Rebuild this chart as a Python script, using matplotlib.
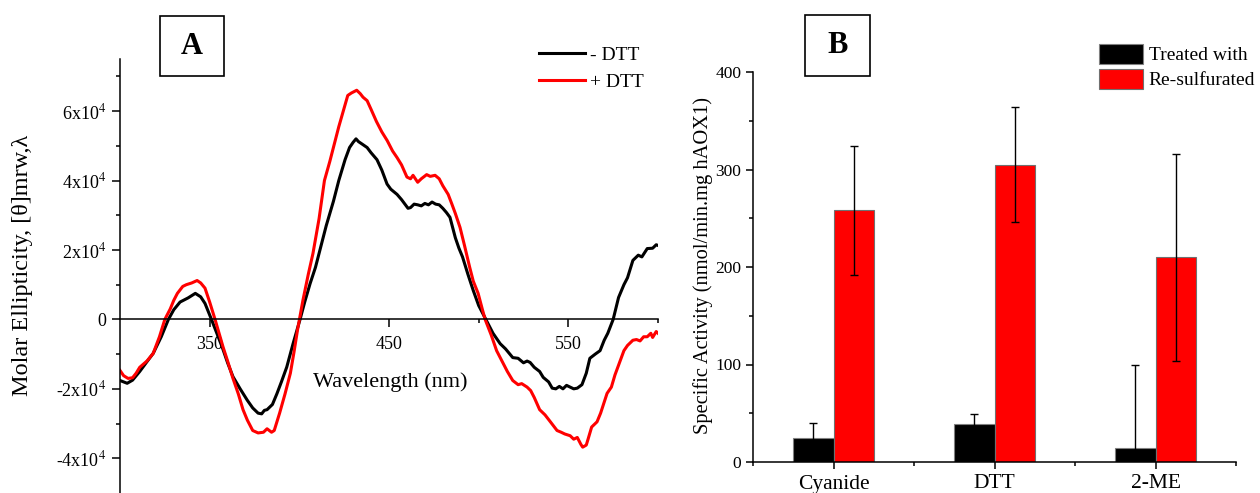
import matplotlib
matplotlib.use("Agg")
import matplotlib.pyplot as plt
from matplotlib.patches import Rectangle
import numpy as np

plt.rcParams['font.family'] = 'serif'
plt.rcParams['font.serif'] = ['Liberation Serif', 'DejaVu Serif']
plt.rcParams['mathtext.fontset'] = 'stix'

# ---- panel A: CD spectra (values in units of 1e4) ----
wl_minus = [300, 304, 307, 311, 315, 318.5, 323, 327, 330, 333.5, 338, 342, 345, 347.4, 351,
            354, 357, 360, 363, 367, 371, 374, 377, 379, 380.5, 382, 385, 387.5, 390, 393,
            396.5, 400.4, 403, 406, 409, 411.5, 415, 419, 422, 425.5, 428, 430, 431.6, 433,
            435, 437.8, 440, 443.3, 446, 448.9, 451, 454.5, 457, 460.6, 462, 464, 466, 468,
            470, 472, 474, 476, 478, 480, 482, 484, 487, 489, 491, 494, 497, 500, 504, 508,
            512, 515, 519, 522, 525, 527, 528.7, 531, 534, 536, 539, 541, 543, 545, 547, 549,
            551, 553, 555, 557.6, 560, 562, 565, 567.7, 570, 572, 575, 578, 581, 583, 586,
            589, 591, 594, 597, 599, 600]
theta_minus = [-1.76, -1.84, -1.75, -1.50, -1.22, -0.98, -0.50, 0.0, 0.28, 0.50, 0.62, 0.75,
               0.65, 0.46, 0.0, -0.40, -0.80, -1.25, -1.65, -2.00, -2.33, -2.55, -2.70, -2.72,
               -2.62, -2.60, -2.45, -2.14, -1.80, -1.37, -0.70, 0.0, 0.50, 1.03, 1.50, 2.00,
               2.70, 3.40, 4.00, 4.60, 4.95, 5.10, 5.20, 5.12, 5.05, 4.95, 4.80, 4.60, 4.30,
               3.90, 3.75, 3.60, 3.45, 3.20, 3.22, 3.32, 3.30, 3.27, 3.34, 3.30, 3.38, 3.32,
               3.30, 3.20, 3.08, 2.94, 2.35, 2.05, 1.80, 1.30, 0.83, 0.40, 0.0, -0.40, -0.70,
               -0.85, -1.10, -1.12, -1.25, -1.20, -1.24, -1.38, -1.50, -1.67, -1.80, -1.98,
               -2.00, -1.93, -2.00, -1.90, -1.95, -2.00, -1.98, -1.88, -1.55, -1.12, -1.00,
               -0.90, -0.60, -0.40, 0.0, 0.63, 1.00, 1.20, 1.70, 1.85, 1.80, 2.04, 2.05, 2.15,
               2.13]

wl_plus = [300, 302, 304.5, 307, 309, 311, 315, 318.5, 322, 325, 328, 330, 332, 335, 337, 340,
           343, 345, 347.4, 350, 353, 357.5, 360, 363, 366, 368.6, 371, 374, 377, 380, 382,
           384.5, 386, 389, 392, 395, 397, 399, 402, 405, 407.6, 411, 414, 417, 419, 422,
           424.5, 427, 429, 432, 434, 435.5, 437.8, 440, 443, 446, 449, 452, 454.5, 457, 460,
           462, 463.4, 466, 468, 471, 473, 475.7, 478, 480, 483, 485, 487, 489.6, 492, 495,
           497, 499.7, 502, 503.6, 507, 510, 513, 516, 519, 522, 524, 527, 529, 531, 534, 537,
           540, 543.7, 546, 548, 551, 553, 555, 557, 558, 560, 561, 563, 566, 568, 571.6, 574,
           576, 579, 581, 583, 586, 588, 590, 592, 594, 596, 597, 599, 600]
theta_plus = [-1.47, -1.62, -1.70, -1.68, -1.55, -1.38, -1.20, -0.98, -0.50, 0.0, 0.30, 0.55,
              0.75, 0.95, 1.00, 1.05, 1.12, 1.05, 0.90, 0.50, 0.0, -0.80, -1.20, -1.70, -2.15,
              -2.60, -2.90, -3.20, -3.27, -3.25, -3.15, -3.25, -3.20, -2.70, -2.15, -1.55,
              -0.95, -0.30, 0.55, 1.30, 1.90, 2.90, 4.00, 4.55, 4.95, 5.55, 6.00, 6.45, 6.52,
              6.60, 6.50, 6.40, 6.30, 6.05, 5.70, 5.40, 5.15, 4.85, 4.66, 4.45, 4.10, 4.05,
              4.15, 3.95, 4.05, 4.17, 4.12, 4.15, 4.05, 3.85, 3.60, 3.33, 3.05, 2.65, 2.15,
              1.50, 1.10, 0.75, 0.30, 0.0, -0.45, -0.90, -1.20, -1.50, -1.76, -1.88, -1.85,
              -1.95, -2.05, -2.25, -2.60, -2.75, -2.95, -3.20, -3.25, -3.30, -3.35, -3.45,
              -3.40, -3.60, -3.68, -3.62, -3.45, -3.10, -2.95, -2.70, -2.13, -1.95, -1.60,
              -1.18, -0.90, -0.75, -0.60, -0.58, -0.62, -0.50, -0.50, -0.40, -0.52, -0.35,
              -0.40]

ytick_vals = [-4e4, -2e4, 0, 2e4, 4e4, 6e4]
ytick_labels = ['-4x10$^4$', '-2x10$^4$', '0', '2x10$^4$', '4x10$^4$', '6x10$^4$']

# ---- panel B: specific activity ----
treatments = ['Cyanide', 'DTT', '2-ME']
treated = [25, 39, 14]
treated_err = [15, 10, 86]
resulf = [258, 305, 210]
resulf_err = [66, 59, 106]

W, H = 1260, 493
fig = plt.figure(figsize=(W / 100, H / 100), dpi=100)

# panel A
ax1 = fig.add_axes([120 / W, 0.0, 538 / W, 1 - 59 / H])
ax1.plot(wl_minus, np.array(theta_minus) * 1e4, color='black', lw=2.2, label='- DTT')
ax1.plot(wl_plus, np.array(theta_plus) * 1e4, color='#ff0000', lw=2.2, label='+ DTT')
ax1.set_xlim(300, 600)
ax1.set_ylim(-5e4, 7.5e4)
ax1.spines['top'].set_visible(False)
ax1.spines['right'].set_visible(False)
ax1.spines['bottom'].set_position(('data', 0))
for s in ['left', 'bottom']:
    ax1.spines[s].set_linewidth(1.1)
ax1.set_xticks([350, 450, 550])
ax1.set_xticks([400, 500, 600], minor=True)
ax1.set_yticks(ytick_vals)
ax1.set_yticks([-3e4, -1e4, 1e4, 3e4, 5e4, 7e4], minor=True)
ax1.tick_params(which='major', direction='out', length=6, width=1.1, labelsize=13, pad=4)
ax1.tick_params(which='minor', direction='out', length=3, width=1.1)
ax1.tick_params(axis='x', which='major', pad=6)
ax1.set_yticklabels(ytick_labels)
ax1.set_ylabel('Molar Ellipticity, [θ]mrw,λ', fontsize=17.5, va='center')
ax1.yaxis.set_label_coords(-0.182, 0.525)
ax1.set_xlabel('Wavelength (nm)', fontsize=16, va='center')
ax1.xaxis.set_label_coords(0.502, 0.256)
ax1.legend(loc='upper left', bbox_to_anchor=(539 / W, 1 - 46 / H),
           bbox_transform=fig.transFigure, frameon=False, fontsize=14,
           handlelength=2.37, handletextpad=0.26, labelspacing=0.48,
           borderpad=0, borderaxespad=0)

# panel B
ax2 = fig.add_axes([753 / W, 1 - 462 / H, 483 / W, 390 / H])
x = np.arange(1, len(treatments) + 1)
w = 0.25
ax2.bar(x - w / 2, treated, w, color='black', edgecolor='#808080', lw=0.8,
        label='Treated with', zorder=2)
ax2.bar(x + w / 2, resulf, w, color='#ff0000', edgecolor='#707070', lw=0.8,
        label='Re-sulfurated', zorder=2)
ax2.errorbar(x - w / 2, treated, yerr=treated_err, fmt='none', ecolor='black',
             elinewidth=1, capsize=3, capthick=1, zorder=3)
ax2.errorbar(x + w / 2, resulf, yerr=resulf_err, fmt='none', ecolor='black',
             elinewidth=1, capsize=3, capthick=1, zorder=3)
ax2.set_xlim(0.5, 3.5)
ax2.set_ylim(0, 400)
ax2.spines['top'].set_visible(False)
ax2.spines['right'].set_visible(False)
for s in ['left', 'bottom']:
    ax2.spines[s].set_linewidth(1.1)
ax2.set_xticks(x)
ax2.set_xticks([0.5, 1.5, 2.5, 3.5], minor=True)
ax2.set_yticks([0, 100, 200, 300, 400])
ax2.set_yticks([50, 150, 250, 350], minor=True)
ax2.tick_params(which='major', direction='out', length=5, width=1.1, labelsize=12.5)
ax2.tick_params(which='minor', direction='out', length=3, width=1.1)
ax2.tick_params(axis='x', which='major', pad=4, labelsize=15.5)
ax2.set_xticklabels(treatments)
ax2.set_ylabel('Specific Activity (nmol/min.mg hAOX1)', fontsize=14.8, va='center')
ax2.yaxis.set_label_coords(-0.1035, 0.505)
ax2.legend(loc='upper left', bbox_to_anchor=(1099 / W, 1 - 44 / H),
           bbox_transform=fig.transFigure, frameon=False, fontsize=14,
           handlelength=2.26, handleheight=1.18, handletextpad=0.3,
           labelspacing=0.23, borderpad=0, borderaxespad=0)

# panel letter boxes
for x0, x1, y0, y1, letter in [(160, 224, 16, 76, 'A'), (805, 870, 15, 76, 'B')]:
    fig.patches.append(Rectangle((x0 / W, 1 - y1 / H), (x1 - x0) / W, (y1 - y0) / H,
                                 transform=fig.transFigure, facecolor='white',
                                 edgecolor='black', lw=1.2))
    fig.text((x0 + x1) / 2 / W, 1 - (y0 + y1) / 2 / H, letter, ha='center', va='center',
             fontsize=22, fontweight='bold')

fig.savefig('out.png', dpi=100)
